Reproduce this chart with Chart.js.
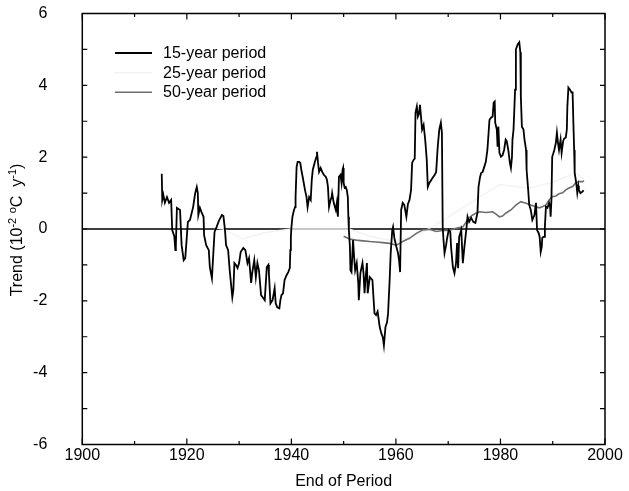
<!DOCTYPE html>
<html><head><meta charset="utf-8">
<script src="https://cdn.jsdelivr.net/npm/chart.js@4/dist/chart.umd.min.js"></script>
<style>html,body{margin:0;padding:0;background:#fff}canvas{display:block}</style>
</head><body>
<canvas id="c" width="629" height="491"></canvas>
<script>
// ---- data ----
const years15 = [1915.2,1915.3,1915.5,1915.8,1916.2,1916.6,1917.0,1917.2,1917.6,1917.8,1917.9,1918.1,1918.7,1919.0,1919.4,1919.7,1920.2,1920.6,1921.2,1921.6,
1921.9,1922.1,1922.2,1922.5,1922.8,1923.2,1923.3,1923.7,1924.2,1924.4,1924.8,1925.1,1925.3,1925.7,1926.2,1926.7,1927.0,1927.3,1927.5,1927.9,
1928.2,1928.7,1928.9,1929.1,1929.4,1929.7,1930.0,1930.3,1930.8,1931.2,1931.6,1931.9,1932.3,1932.5,1932.9,1933.2,1933.5,1933.8,1934.2,1934.5,
1934.9,1935.3,1935.6,1935.7,1936.0,1936.4,1936.8,1937.0,1937.3,1937.7,1937.9,1938.1,1938.4,1938.7,1939.1,1939.4,1939.7,1939.8,1939.9,1940.0,
1940.2,1940.5,1940.7,1940.8,1941.0,1941.2,1941.5,1941.7,1941.9,1942.2,1942.6,1942.9,1943.1,1943.4,1943.7,1943.9,1944.1,1944.5,1944.8,1944.9,
1945.1,1945.3,1945.6,1945.9,1946.2,1946.6,1946.8,1947.0,1947.2,1947.5,1947.7,1947.8,1948.1,1948.5,1948.7,1948.9,1949.1,1949.4,1949.6,1949.8,
1949.9,1950.0,1950.2,1950.4,1950.6,1950.8,1950.9,1951.0,1951.2,1951.3,1951.5,1951.8,1952.0,1952.2,1952.5,1952.8,1952.9,1953.2,1953.6,1953.8,
1954.0,1954.2,1954.45,1954.6,1955.0,1955.5,1955.9,1956.2,1956.5,1956.9,1957.2,1957.5,1957.7,1958.0,1958.3,1958.5,1958.8,1959.0,1959.3,1959.45,
1959.7,1960.1,1960.4,1960.6,1960.8,1961.0,1961.3,1961.6,1962.0,1962.3,1962.6,1962.9,1963.1,1963.4,1963.6,1963.75,1964.0,1964.2,1964.4,1964.6,
1964.8,1965.0,1965.3,1965.6,1965.9,1966.1,1966.4,1966.7,1967.0,1967.4,1967.7,1968.0,1968.3,1968.6,1968.8,1968.95,1969.1,1969.3,1969.6,1969.8,
1970.1,1970.4,1970.55,1970.9,1971.2,1971.5,1971.7,1971.9,1972.1,1972.5,1972.8,1973.1,1973.5,1973.7,1974.0,1974.4,1974.8,1975.2,1975.6,1975.8,
1976.1,1976.3,1976.6,1976.9,1977.2,1977.5,1977.9,1978.2,1978.5,1978.7,1978.9,1979.0,1979.3,1979.45,1979.6,1979.8,1980.1,1980.4,1980.7,1981.0,
1981.2,1981.5,1981.8,1982.0,1982.2,1982.3,1982.5,1982.6,1982.8,1982.95,1983.3,1983.6,1983.8,1983.9,1984.1,1984.4,1984.6,1984.9,1985.0,1985.3,
1985.5,1985.8,1986.1,1986.5,1986.8,1987.0,1987.3,1987.5,1987.7,1987.9,1988.0,1988.2,1988.4,1988.5,1988.7,1989.0,1989.3,1989.5,1989.6,1989.75,
1989.9,1990.1,1990.3,1990.6,1990.8,1991.0,1991.2,1991.5,1991.7,1992.0,1992.2,1992.5,1992.7,1992.8,1993.0,1993.3,1993.6,1993.8,1993.95,1994.1,
1994.2,1994.5,1994.7,1994.9,1995.0,1995.3,1995.7,1995.9];
const trend15 = [1.54,0.81,0.95,0.73,0.89,0.73,0.81,-0.03,-0.2,-0.59,-0.45,0.59,0.53,-0.45,-0.87,-0.81,0.2,0.25,0.61,1.0,
1.17,1.0,0.39,0.59,0.47,0.34,-0.17,-0.45,-0.59,-1.06,-1.37,-0.59,-0.08,0.06,0.25,0.39,0.36,-0.03,-0.45,-0.59,
-1.15,-1.9,-1.7,-0.95,-1.0,-1.09,-0.95,-0.64,-0.53,-0.59,-0.95,-0.81,-1.5,-1.23,-0.87,-1.34,-0.95,-1.15,-1.84,-1.9,
-1.98,-1.06,-1.0,-1.23,-2.07,-1.98,-1.65,-2.07,-2.18,-2.21,-1.98,-1.84,-1.79,-1.42,-1.28,-1.2,-1.09,-0.59,-0.22,0.03,
0.34,0.53,0.61,0.89,1.73,1.87,1.87,1.84,1.65,1.42,1.09,0.89,0.61,0.89,0.81,1.37,1.65,1.87,2.01,2.15,
1.84,1.59,1.7,1.59,1.51,1.45,1.37,1.17,0.61,0.81,0.89,1.0,0.73,0.53,0.73,0.34,1.45,1.51,1.28,1.65,
1.7,1.28,1.15,1.17,1.09,0.89,0.34,-0.03,-0.5,-1.15,-1.2,-0.31,-0.78,-1.15,-0.95,-1.51,-1.98,-1.23,-0.95,-1.23,
-1.79,-1.37,-0.95,-1.79,-1.34,-1.42,-2.35,-2.4,-2.3,-2.73,-2.9,-3.02,-3.24,-2.73,-2.6,-2.35,-1.42,-0.67,-0.03,0.06,
-0.25,-0.5,-0.67,-0.87,-1.2,0.53,0.73,0.67,0.34,0.7,0.81,1.09,1.84,1.93,1.96,3.24,3.41,3.13,3.2,3.46,
3.13,2.77,2.9,2.49,1.93,1.17,1.28,1.35,1.42,1.5,1.59,2.29,2.77,2.96,2.68,0.06,-0.3,-0.67,-0.45,-0.25,
-0.03,-0.08,-0.5,-1.06,-1.23,-0.95,-0.39,-1.09,-0.22,-0.03,-0.95,-0.5,0.03,0.34,0.2,0.31,0.2,0.17,0.45,1.17,
1.45,1.56,1.59,1.73,1.87,2.2,3.04,3.1,3.13,3.52,3.55,2.96,2.77,2.29,2.85,2.12,2.01,2.05,2.2,2.49,
2.45,2.2,1.84,1.7,2.0,2.49,2.77,3.13,3.88,5.0,5.14,5.2,4.92,3.69,2.85,2.77,2.49,2.2,1.65,1.1,
0.67,0.53,0.25,0.39,0.73,-0.03,-0.11,-0.22,-0.64,-0.5,-0.25,-0.22,-0.22,0.06,0.62,0.59,0.73,0.62,0.34,0.81,
2.01,2.1,2.2,2.4,2.68,2.4,2.2,2.49,2.12,2.45,2.52,2.55,2.77,3.41,3.94,3.88,3.8,3.8,2.96,2.2,
1.56,1.28,1.0,1.2,1.09,1.0,1.04,1.08];

const years25 = [1925.0,1927.0,1930.7,1935.0,1940.0,1944.0,1948.0,1951.0,1955.0,1960.0,1965.0,1969.7,1975.0,1979.8,1985.5,1990.0,1994.3,1996.0];
const trend25 = [0.05,0.0,-0.28,-0.1,0.0,0.0,0.0,0.0,-0.2,-0.35,-0.1,0.3,0.8,1.23,1.14,1.3,1.56,1.4];

const years50 = [1950.0,1951.1,1952.4,1953.7,1955.0,1956.2,1957.5,1958.8,1960.1,1960.7,1961.3,1962.6,1963.9,1965.1,1966.4,1967.7,1968.9,1970.2,1971.5,1972.8,
1974.0,1974.7,1975.3,1976.0,1977.2,1978.5,1979.1,1979.8,1980.4,1981.0,1982.0,1983.0,1983.9,1984.9,1985.8,1986.8,1987.4,1988.0,1988.7,1989.3,
1989.9,1990.6,1991.2,1991.9,1992.5,1993.1,1993.8,1994.4,1995.0,1995.7,1996.0];
const trend50 = [-0.2,-0.28,-0.31,-0.33,-0.35,-0.36,-0.38,-0.4,-0.45,-0.4,-0.35,-0.26,-0.12,-0.03,-0.01,-0.07,-0.04,-0.04,0.02,0.06,
0.31,0.39,0.44,0.48,0.46,0.48,0.42,0.34,0.36,0.44,0.53,0.67,0.76,0.72,0.67,0.62,0.59,0.62,0.67,0.81,
0.9,0.92,0.98,1.01,1.09,1.14,1.18,1.28,1.32,1.32,1.34];

const seriesNames = ['15-year period','25-year period','50-year period'];
const xTickLabels = [1900,1920,1940,1960,1980,2000];
const xMinorTicks = [1900,1910,1920,1930,1940,1950,1960,1970,1980,1990,2000];
const yTickLabels = [-6,-4,-2,0,2,4,6];
const yMinorTicks = [-6,-5,-4,-3,-2,-1,0,1,2,3,4,5,6];

// ---- styles ----
const FONT = '"Liberation Sans", Arial, Helvetica, sans-serif';
const COLORS = ['#000000','#f3f3f3','#6e6e6e'];
Chart.defaults.font.family = FONT;
Chart.defaults.font.size = 16;
Chart.defaults.color = '#000';

const pairs = (xs, ys) => xs.map((x, i) => ({x: x, y: ys[i]}));

const decor = {
  id: 'decor',
  beforeDatasetsDraw(chart) {
    const {ctx, chartArea: a, scales: {y}} = chart;
    const y0 = y.getPixelForValue(0);
    ctx.save();
    ctx.strokeStyle = '#000'; ctx.lineWidth = 1.3;
    ctx.beginPath(); ctx.moveTo(a.left, y0); ctx.lineTo(a.right, y0); ctx.stroke();
    ctx.restore();
  },
  afterDatasetsDraw(chart) {
    const {ctx, chartArea: a, scales: {x, y}} = chart;
    ctx.save();
    ctx.strokeStyle = '#000'; ctx.lineWidth = 1.5;
    ctx.strokeRect(a.left, a.top, a.right - a.left, a.bottom - a.top);
    ctx.lineWidth = 1.2;
    ctx.beginPath();
    xMinorTicks.forEach(v => {
      const px = x.getPixelForValue(v);
      const len = xTickLabels.includes(v) ? 6 : 3.5;
      ctx.moveTo(px, a.bottom); ctx.lineTo(px, a.bottom - len);
      ctx.moveTo(px, a.top); ctx.lineTo(px, a.top + len);
    });
    yMinorTicks.forEach(v => {
      const py = y.getPixelForValue(v);
      ctx.moveTo(a.left, py); ctx.lineTo(a.left + 5, py);
      ctx.moveTo(a.right, py); ctx.lineTo(a.right - 5, py);
    });
    ctx.stroke();
    ctx.restore();
  },
  afterDraw(chart) {
    const {ctx} = chart;
    // legend
    const rows = [53.5, 73.3, 92.8];
    const widths = [2, 1.5, 1.6];
    ctx.save();
    seriesNames.forEach((name, i) => {
      ctx.strokeStyle = COLORS[i]; ctx.lineWidth = widths[i];
      ctx.beginPath(); ctx.moveTo(115, rows[i] - 0.5); ctx.lineTo(152, rows[i] - 0.5); ctx.stroke();
      ctx.fillStyle = '#000'; ctx.font = '16px ' + FONT;
      ctx.textBaseline = 'middle'; ctx.textAlign = 'left';
      ctx.fillText(name, 163, rows[i]);
    });
    ctx.restore();
    // y-axis title with superscripts
    const parts = [['Trend (10',16,0],['-2',11,-6.5],[' ',16,0],['o',11,-6.5],['C  y',16,0],['-1',11,-6.5],[')',16,0]];
    ctx.save();
    ctx.translate(16, 230); ctx.rotate(-Math.PI / 2);
    ctx.fillStyle = '#000'; ctx.textBaseline = 'alphabetic'; ctx.textAlign = 'left';
    let total = 0;
    parts.forEach(p => { ctx.font = p[1] + 'px ' + FONT; total += ctx.measureText(p[0]).width; });
    let cx = -total / 2;
    parts.forEach(p => { ctx.font = p[1] + 'px ' + FONT; ctx.fillText(p[0], cx, 6 + p[2]); cx += ctx.measureText(p[0]).width; });
    ctx.restore();
  }
};

new Chart(document.getElementById('c'), {
  type: 'line',
  data: {
    datasets: [
      {label: seriesNames[0], data: pairs(years15, trend15), borderColor: COLORS[0], borderWidth: 1.8, pointRadius: 0, tension: 0, order: 0},
      {label: seriesNames[1], data: pairs(years25, trend25), borderColor: COLORS[1], borderWidth: 1.5, pointRadius: 0, tension: 0, order: 2},
      {label: seriesNames[2], data: pairs(years50, trend50), borderColor: COLORS[2], borderWidth: 1.6, pointRadius: 0, tension: 0, order: 1}
    ]
  },
  options: {
    responsive: false, animation: false, devicePixelRatio: 1,
    layout: {autoPadding: false, padding: {left: 0, top: 13.5, right: 24, bottom: 0}},
    plugins: {legend: {display: false}, tooltip: {enabled: false}},
    scales: {
      x: {
        type: 'linear', min: 1900, max: 2000,
        afterBuildTicks: s => { s.ticks = xTickLabels.map(v => ({value: v})); },
        ticks: {padding: 1, maxRotation: 0, autoSkip: false, callback: v => String(v), font: {size: 16}},
        grid: {display: false, drawTicks: false},
        border: {display: false},
        title: {display: true, text: 'End of Period', font: {size: 16}, padding: {top: 0, bottom: 0}},
        afterFit: s => { s.height = 46.5; s.paddingLeft = 0; s.paddingRight = 0; }
      },
      y: {
        type: 'linear', min: -6, max: 6,
        afterBuildTicks: s => { s.ticks = yTickLabels.map(v => ({value: v})); },
        ticks: {padding: 35, callback: v => String(v), font: {size: 16}},
        grid: {display: false, drawTicks: false},
        border: {display: false},
        afterFit: s => { s.width = 82.3; s.paddingTop = 0; s.paddingBottom = 0; }
      }
    }
  },
  plugins: [decor]
});
</script>
</body></html>
